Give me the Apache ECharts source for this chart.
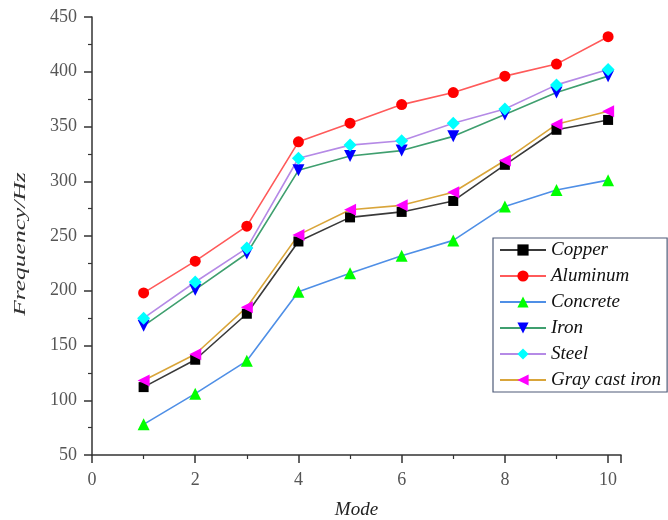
<!DOCTYPE html>
<html>
<head>
<meta charset="utf-8">
<script src="https://cdn.jsdelivr.net/npm/echarts@6/dist/echarts.min.js"></script>
<style>
  html, body { margin: 0; padding: 0; background: #fff; }
  #chart { width: 668px; height: 520px; }
</style>
</head>
<body>
<div id="chart"></div>
<script>
  // mode numbers on the x axis
  var modes = [1, 2, 3, 4, 5, 6, 7, 8, 9, 10];

  // frequencies (Hz) per material
  var copper = [112, 137, 179, 245, 267, 272, 282, 315, 347, 356];
  var aluminum = [198, 227, 259, 336, 353, 370, 381, 396, 407, 432];
  var concrete = [78, 106, 136, 199, 216, 232, 246, 277, 292, 301];
  var iron = [168, 201, 234, 310, 323, 328, 341, 361, 381, 396];
  var steel = [175, 208, 239, 321, 333, 337, 353, 366, 388, 402];
  var grayCastIron = [118, 142, 185, 251, 274, 278, 290, 319, 352, 364];

  var names = ['Copper', 'Aluminum', 'Concrete', 'Iron', 'Steel', 'Gray cast iron'];
  var values = [copper, aluminum, concrete, iron, steel, grayCastIron];
  var lineColors = ['#3a3a3a', '#ff5a5a', '#4f8fe6', '#3f9f6f', '#b58ae6', '#d9a53a'];
  var markColors = ['#000000', '#ff0000', '#00ff00', '#0000ff', '#00ffff', '#ff00ff'];
  var symbols = [
    'rect',
    'circle',
    'path://M5,0 L10,9 L0,9 Z',
    'path://M0,0 L10,0 L5,9 Z',
    'diamond',
    'path://M0,5 L9,0 L9,10 Z'
  ];
  var sizes = [10, 11, 12, 12, 13, 12];

  var chart = echarts.init(document.getElementById('chart'));

  var serif = '"Liberation Serif", "Times New Roman", serif';

  var series = [];
  for (var i = 0; i < names.length; i++) {
    var pts = [];
    for (var j = 0; j < modes.length; j++) {
      pts.push([modes[j], values[i][j]]);
    }
    series.push({
      name: names[i],
      type: 'line',
      data: pts,
      symbol: symbols[i],
      symbolSize: sizes[i],
      showAllSymbol: true,
      lineStyle: { color: lineColors[i], width: 1.6 },
      itemStyle: { color: markColors[i], borderWidth: 0 },
      emphasis: { disabled: true }
    });
  }

  var option = {
    animation: false,
    grid: { left: 92, top: 17, right: 47, bottom: 65, outerBoundsMode: 'none' },
    legend: {
      orient: 'vertical',
      left: 493,
      top: 238,
      padding: [2, 6, 2, 6],
      itemWidth: 46,
      itemHeight: 14,
      itemGap: 6,
      borderColor: '#4e5b78',
      borderWidth: 1.2,
      textStyle: { fontFamily: serif, fontStyle: 'italic', fontSize: 19, lineHeight: 20, color: '#111' },
      data: names
    },
    // y axis title drawn as text; the source figure is stretched along it
    graphic: [{
      type: 'text',
      x: 21,
      y: 244,
      rotation: Math.PI / 2,
      scaleX: 1.5,
      style: {
        text: 'Frequency/Hz',
        font: 'italic 17px ' + serif,
        fill: '#333',
        align: 'center',
        verticalAlign: 'middle'
      }
    }],
    xAxis: {
      type: 'value',
      min: 0,
      max: 10.25,
      interval: 2,
      name: 'Mode',
      nameLocation: 'middle',
      nameGap: 45,
      nameTextStyle: { fontFamily: serif, fontStyle: 'italic', fontSize: 19, color: '#222' },
      axisLine: { show: true, lineStyle: { color: '#333', width: 1.5 } },
      axisTick: { show: true, length: 8, lineStyle: { color: '#333', width: 1.5 } },
      minorTick: { show: true, splitNumber: 2, length: 4, lineStyle: { color: '#333', width: 1.2 } },
      axisLabel: { fontFamily: serif, fontSize: 18, color: '#555', margin: 16, showMaxLabel: false },
      splitLine: { show: false }
    },
    yAxis: {
      type: 'value',
      min: 50,
      max: 450,
      interval: 50,
      axisLine: { show: true, lineStyle: { color: '#333', width: 1.5 } },
      axisTick: { show: true, length: 8, lineStyle: { color: '#333', width: 1.5 } },
      minorTick: { show: true, splitNumber: 2, length: 4, lineStyle: { color: '#333', width: 1.2 } },
      axisLabel: { fontFamily: serif, fontSize: 18, color: '#555', margin: 15 },
      splitLine: { show: false }
    },
    series: series
  };

  chart.setOption(option);
</script>
</body>
</html>
